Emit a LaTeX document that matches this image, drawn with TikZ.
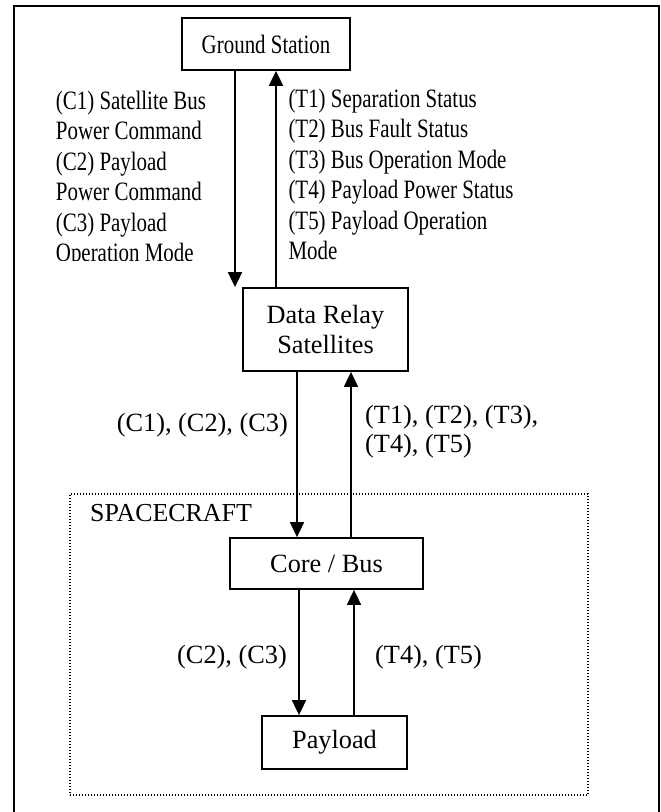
\documentclass[tikz,border=0pt]{standalone}
\usepackage{fontspec}
\setmainfont{Liberation Serif}
\newfontfamily\narrowserif[FakeStretch=0.79]{Liberation Serif}
\usetikzlibrary{arrows.meta}
\begin{document}
\begin{tikzpicture}[x=1pt,y=-1pt,
  box/.style={draw, line width=1.8pt, inner sep=0pt, font=\fontsize{26.3}{30.2}\selectfont, align=center},
  arr/.style={line width=1.8pt, -{Triangle[width=14pt,length=15pt]}},
  lbl/.style={inner sep=0pt, font=\fontsize{26.3}{30.2}\selectfont},
  toplbl/.style={inner sep=0pt, font=\narrowserif\fontsize{26.5}{30.5}\selectfont},
  dotbox/.style={draw, line width=1.3pt, dash pattern=on 1.3pt off 1.7pt, inner sep=0pt}
]
\useasboundingbox (0,0) rectangle (661,812);
\clip (0,0) rectangle (661,812);
\fill[white] (0,0) rectangle (661,812);
% outer frame
\draw[line width=1.8pt] (14,830) -- (14,6) -- (659,6) -- (659,830);
% spacecraft dotted region
\node[dotbox, minimum width=518pt, minimum height=301pt] (sc) at (329,644.5) {};
\node[lbl, font=\fontsize{25.9}{29}\selectfont, anchor=base west] (scl) at (90,521.5) {SPACECRAFT};
% boxes
\node[box, minimum width=168pt, minimum height=52pt] (gs) at (266,44) {\narrowserif\fontsize{26.5}{30.5}\selectfont Ground Station};
\node[box, minimum width=165pt, minimum height=83pt] (drs) at (325.5,329.5) {Data Relay\\Satellites};
\node[box, minimum width=193pt, minimum height=51pt] (core) at (326.5,563.5) {Core / Bus};
\node[box, minimum width=145pt, minimum height=53pt] (pl) at (334.5,742.5) {Payload};
% arrow columns
\coordinate (a1) at (235,0);
\coordinate (a2) at (276,0);
\coordinate (b1) at (297,0);
\coordinate (b2) at (351,0);
\coordinate (c1) at (299,0);
\coordinate (c2) at (354,0);
\draw[arr] (gs.south -| a1) -- (drs.north -| a1);
\draw[arr] (drs.north -| a2) -- (gs.south -| a2);
\draw[arr] (drs.south -| b1) -- (core.north -| b1);
\draw[arr] (core.north -| b2) -- (drs.south -| b2);
\draw[arr] (core.south -| c1) -- (pl.north -| c1);
\draw[arr] (pl.north -| c2) -- (core.south -| c2);
% top-left command list (clipped text box)
\begin{scope}
\clip (40,70) rectangle (232,260);
\foreach \t [count=\i] in {(C1) Satellite Bus, Power Command, (C2) Payload, Power Command, (C3) Payload, Operation Mode}
  \node[toplbl, anchor=base west] (cl\i) at (55.7,{109.3+30.5*(\i-1)}) {\t};
\end{scope}
% top-right telemetry list
\foreach \t [count=\i] in {(T1) Separation Status, (T2) Bus Fault Status, (T3) Bus Operation Mode, (T4) Payload Power Status, (T5) Payload Operation, Mode}
  \node[toplbl, anchor=base west] (tl\i) at (288.3,{107.3+30.5*(\i-1)}) {\t};
% middle labels
\node[lbl, anchor=base east] (mc) at (288,431) {(C1), (C2), (C3)};
\node[lbl, anchor=base west] (mt1) at (365,423.3) {(T1), (T2), (T3),};
\node[lbl, anchor=base west] (mt2) at (365,452) {(T4), (T5)};
% lower labels
\node[lbl, anchor=base east] (lc) at (287,663) {(C2), (C3)};
\node[lbl, anchor=base west] (lt) at (375,663) {(T4), (T5)};
\end{tikzpicture}
\end{document}
